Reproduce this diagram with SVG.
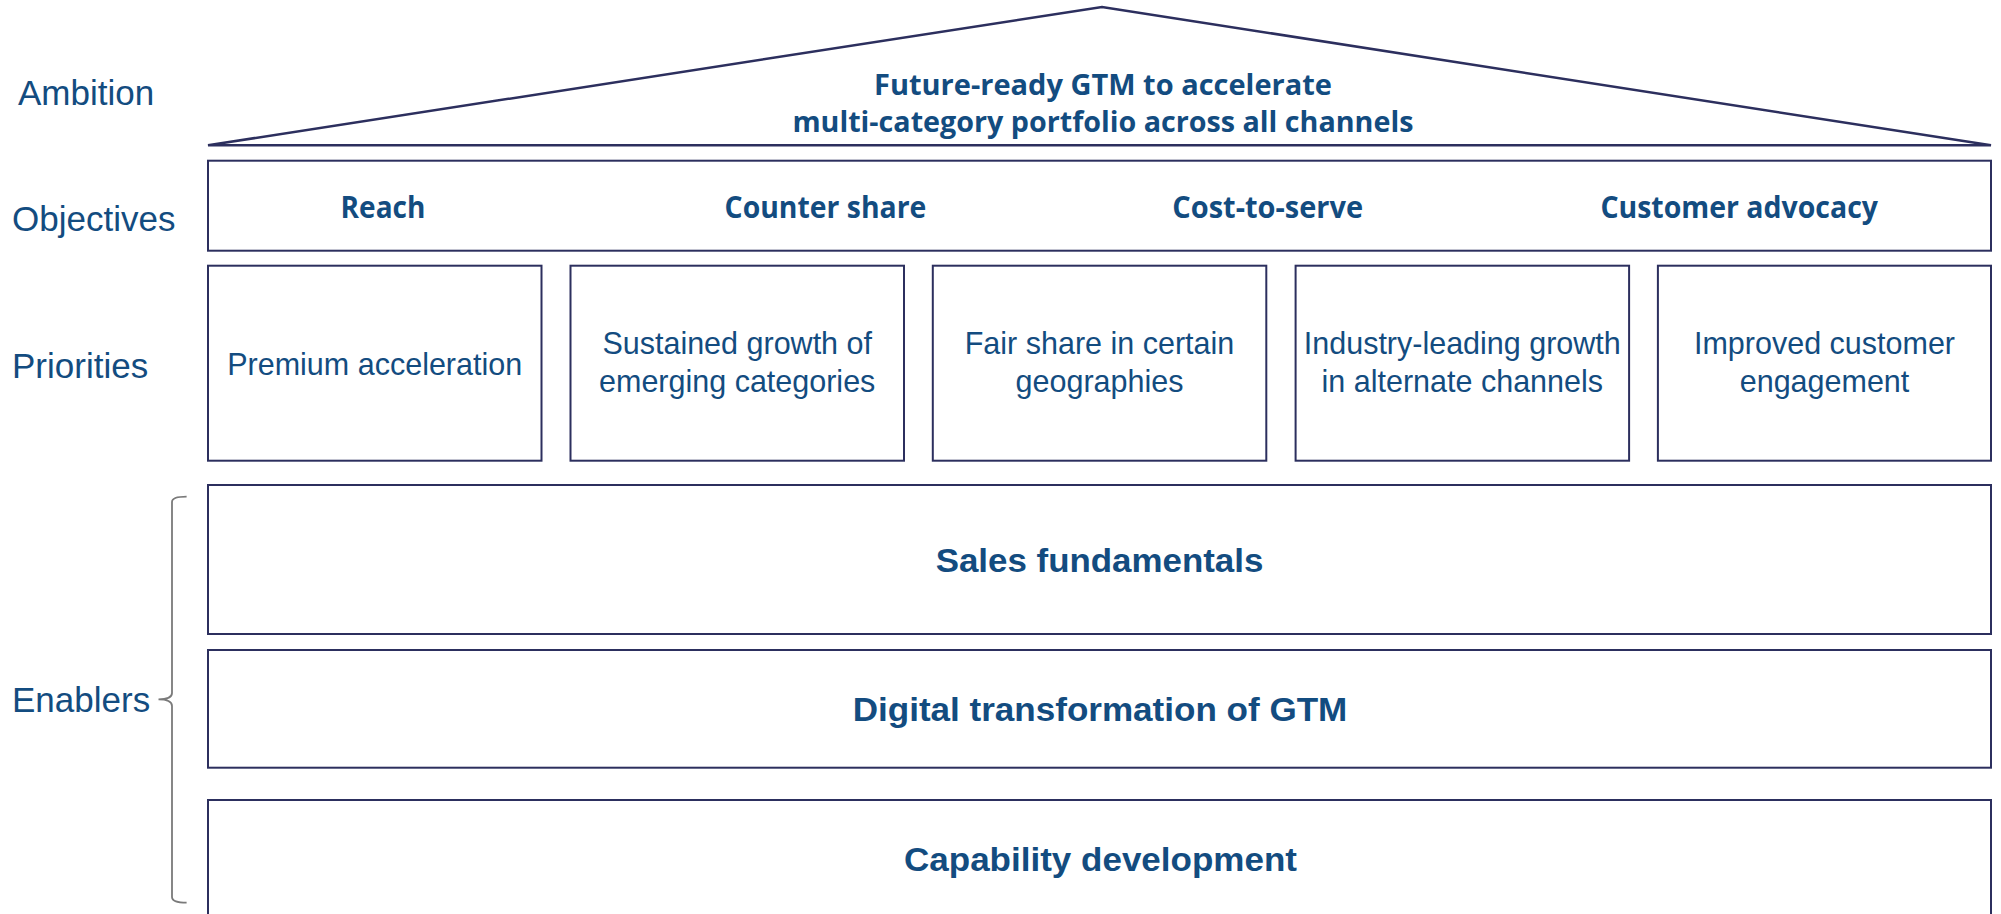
<svg xmlns="http://www.w3.org/2000/svg" width="2001" height="914" viewBox="0 0 2001 914">
<style>
.box{fill:#fff;stroke:#2c2f5e;stroke-width:2}
.lbl{font-family:"Liberation Sans",Arial,sans-serif;font-size:35px;fill:#134c80}
.pri{font-family:"Liberation Sans",Arial,sans-serif;font-size:30.5px;fill:#134c80;text-anchor:middle}
.hd{font-family:"Open Sans","DejaVu Sans",sans-serif;font-weight:700;fill:#134c80}
.en{font-family:"Liberation Sans",Arial,sans-serif;font-weight:700;font-size:34px;fill:#134c80}
</style>
<rect width="2001" height="914" fill="#fff"/>
<g id="labels">
<text class="lbl" x="18" y="105">Ambition</text>
<text class="lbl" x="12" y="230.5">Objectives</text>
<text class="lbl" x="12" y="378">Priorities</text>
<text class="lbl" x="12" y="711.5">Enablers</text>
</g>
<g id="ambition">
<polygon points="208,145.3 1102,7 1991,145.3" fill="none" stroke="#2c2f5e" stroke-width="2.5" stroke-linejoin="miter"/>
<text class="hd" font-size="28" x="874" y="95" textLength="458" lengthAdjust="spacingAndGlyphs">Future-ready GTM to accelerate</text>
<text class="hd" font-size="28" x="792.4" y="131.7" textLength="621" lengthAdjust="spacingAndGlyphs">multi-category portfolio across all channels</text>
</g>
<g id="objectives">
<rect class="box" x="208" y="160.7" width="1783" height="90"/>
<text class="hd" font-size="30" x="340.6" y="218" textLength="84.8" lengthAdjust="spacingAndGlyphs">Reach</text>
<text class="hd" font-size="30" x="724.6" y="218" textLength="201.7" lengthAdjust="spacingAndGlyphs">Counter share</text>
<text class="hd" font-size="30" x="1172.3" y="218" textLength="190.7" lengthAdjust="spacingAndGlyphs">Cost-to-serve</text>
<text class="hd" font-size="30" x="1600.4" y="218" textLength="277.6" lengthAdjust="spacingAndGlyphs">Customer advocacy</text>
</g>
<g id="priority-1">
<rect class="box" x="208" y="265.7" width="333.5" height="195"/>
<text class="pri" x="374.7" y="375">Premium acceleration</text>
</g>
<g id="priority-2">
<rect class="box" x="570.5" y="265.7" width="333.5" height="195"/>
<text class="pri" x="737.2" y="354">Sustained growth of</text>
<text class="pri" x="737.2" y="391.7">emerging categories</text>
</g>
<g id="priority-3">
<rect class="box" x="932.8" y="265.7" width="333.5" height="195"/>
<text class="pri" x="1099.5" y="354">Fair share in certain</text>
<text class="pri" x="1099.5" y="391.7">geographies</text>
</g>
<g id="priority-4">
<rect class="box" x="1295.6" y="265.7" width="333.5" height="195"/>
<text class="pri" x="1462.3" y="354">Industry-leading growth</text>
<text class="pri" x="1462.3" y="391.7">in alternate channels</text>
</g>
<g id="priority-5">
<rect class="box" x="1657.9" y="265.7" width="333.1" height="195"/>
<text class="pri" x="1824.5" y="354">Improved customer</text>
<text class="pri" x="1824.5" y="391.7">engagement</text>
</g>
<g id="enabler-1">
<rect class="box" x="208" y="485" width="1783" height="149"/>
<text class="en" x="935.7" y="571.7" textLength="327.7" lengthAdjust="spacingAndGlyphs">Sales fundamentals</text>
</g>
<g id="enabler-2">
<rect class="box" x="208" y="650" width="1783" height="117.7"/>
<text class="en" x="852.7" y="720.7" textLength="494.6" lengthAdjust="spacingAndGlyphs">Digital transformation of GTM</text>
</g>
<g id="enabler-3">
<rect class="box" x="208" y="800" width="1783" height="140"/>
<text class="en" x="904" y="870.7" textLength="393" lengthAdjust="spacingAndGlyphs">Capability development</text>
</g>
<g id="connectors">
<path d="M186.6,496.7 Q172,496.7 172,502 L172,693 Q172,699.3 158.5,699.3 Q172,699.3 172,706 L172,897 Q172,902.7 186.6,902.7" fill="none" stroke="#7a7a7a" stroke-width="1.8"/>
</g>
</svg>
